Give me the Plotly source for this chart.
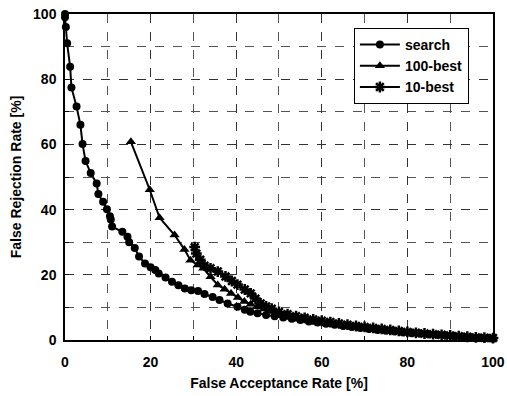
import plotly.graph_objects as go

x_ticks = [0, 20, 40, 60, 80, 100]
y_ticks = [0, 20, 40, 60, 80, 100]

search_far = [0, 0, 0.2, 0.5, 1.2, 1.5, 2.7, 3.6, 4.1, 4.8, 6.0, 7.4, 7.8, 8.9, 9.8, 10.5, 10.7, 11.0, 13.4, 14.6,
              15.0, 16.3, 17.3, 18.7, 20.0, 21.1, 21.9, 23.5, 25.0, 26.5, 28.0, 29.5, 31.1, 32.6, 34.5, 36.1, 38.0, 40.3, 42.0, 43.3,
              45, 47, 49, 51, 53, 55, 57, 59, 61, 63, 65, 67, 69, 71, 73, 75, 77, 79, 81, 83, 85, 87, 89, 91, 93, 95, 97, 99, 100]
search_frr = [100, 99, 96, 91, 83.8, 77.5, 71.6, 66, 60.1, 54.9, 51.2, 48, 44.8, 42.4, 40.1, 38, 37, 34.8, 33.2, 31.7,
              30.0, 28.2, 25.6, 23.5, 22.3, 21.5, 20.4, 19.2, 17.9, 16.8, 15.8, 15.3, 15.0, 14.1, 13.2, 12.3, 11.2, 10.2, 9.3, 8.7,
              8.2, 7.7, 7.3, 6.9, 6.5, 6.1, 5.7, 5.4, 5.0, 4.7, 4.3, 4.0, 3.7, 3.4, 3.1, 2.8, 2.6, 2.3, 2.1, 1.9,
              1.7, 1.5, 1.3, 1.1, 1.0, 0.8, 0.7, 0.5, 0.4]

best100_far = [15.4, 19.8, 22.1, 25.6, 27.9, 29.3, 31.0, 32.3, 34.0, 35.7, 37.3, 38.8, 40.4, 41.9, 43.4, 44.9, 46.5, 48, 49.5, 51,
               53, 55, 57, 59, 61, 63, 65, 67, 69, 71, 73, 75, 77, 79, 81, 83, 85, 87, 89, 91, 93, 95, 97, 99, 100]
best100_frr = [60.8, 46.1, 37.5, 32.2, 27.8, 24.5, 23.0, 22.0, 19.4, 16.9, 15.6, 14.3, 13.0, 11.8, 11.0, 10.2, 9.5, 8.9, 8.2, 7.7,
               7.1, 6.6, 6.1, 5.6, 5.2, 4.8, 4.5, 4.1, 3.8, 3.5, 3.2, 2.9, 2.6, 2.4, 2.2, 2.0, 1.8, 1.6, 1.4, 1.2,
               1.0, 0.8, 0.7, 0.6, 0.5]

best10_far = [30.3, 30.7, 31.6, 32.6, 34.0, 35.7, 37.5, 39.0, 40.3, 42.0, 43.4, 44.5, 45.7, 47.0, 48.3, 50, 52, 54, 56, 58,
              60, 62, 64, 66, 68, 70, 72, 74, 76, 78, 80, 82, 84, 86, 88, 90, 92, 94, 96, 98, 100]
best10_frr = [28.5, 26.5, 24.6, 22.8, 22.0, 21.0, 19.5, 18.1, 17.0, 15.5, 14.3, 12.7, 11.2, 10.3, 9.6, 8.6, 7.9, 7.3, 6.8, 6.3,
              5.9, 5.5, 5.1, 4.7, 4.3, 4.0, 3.7, 3.4, 3.1, 2.8, 2.5, 2.2, 2.0, 1.8, 1.6, 1.4, 1.2, 1.0, 0.8, 0.7, 0.6]

FONT = "Liberation Sans, Arial, sans-serif"

fig = go.Figure()
fig.add_trace(go.Scatter(x=search_far, y=search_frr, name="search", mode="lines+markers",
                         line=dict(color="black", width=2),
                         marker=dict(symbol="circle", size=8, color="black"), cliponaxis=False))
fig.add_trace(go.Scatter(x=best100_far, y=best100_frr, name="100-best", mode="lines+markers",
                         line=dict(color="black", width=2),
                         marker=dict(symbol="triangle-up", size=9, color="black"), cliponaxis=False))
fig.add_trace(go.Scatter(x=best10_far, y=best10_frr, name="10-best", mode="lines+markers",
                         line=dict(color="black", width=2),
                         marker=dict(symbol="asterisk", size=9, color="black",
                                     line=dict(color="black", width=2.5)), cliponaxis=False))

axis_common = dict(
    range=[0, 100.01], showline=True, linecolor="black", linewidth=1.5, mirror=True,
    showgrid=True, gridcolor="#333", griddash="dash", gridwidth=1,
    ticks="inside", ticklen=4, tickcolor="black", zeroline=False,
    ticklabeloverflow="allow", automargin=False,
    minor=dict(dtick=10, showgrid=True, gridcolor="#555", griddash="dash", ticks="inside", ticklen=4, tickcolor="black"),
)

fig.update_layout(
    width=507, height=396,
    margin=dict(l=65, r=14, t=14, b=56, autoexpand=False),
    paper_bgcolor="white", plot_bgcolor="white",
    font=dict(family=FONT, color="black"),
    xaxis=dict(**axis_common, tickvals=x_ticks, ticklabelstandoff=8,
               tickfont=dict(family=FONT, size=14, color="black", weight="bold"),
               title=dict(text="False Acceptance Rate [%]", standoff=10,
                          font=dict(family=FONT, size=14, color="black", weight="bold"))),
    yaxis=dict(**axis_common, tickvals=y_ticks, ticklabelstandoff=4,
               tickfont=dict(family=FONT, size=14, color="black", weight="bold"),
               title=dict(text="False Rejection Rate [%]", standoff=8,
                          font=dict(family=FONT, size=14, color="black", weight="bold"))),
    legend=dict(x=0.675, y=0.957, xanchor="left", yanchor="top",
                bgcolor="white", bordercolor="black", borderwidth=1,
                font=dict(family=FONT, size=14, color="black", weight="bold"),
                tracegroupgap=2, itemwidth=40),
    showlegend=True,
)

fig.write_html("out.html")
